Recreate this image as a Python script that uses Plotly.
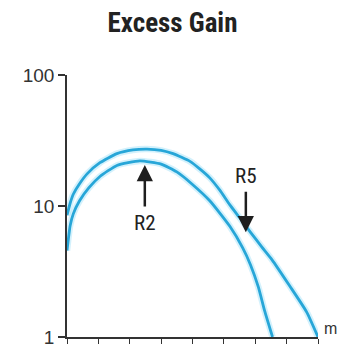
import numpy as np
import plotly.graph_objects as go

# Distance (m) and excess gain values
r5_x = [0.0, 0.1, 0.2, 0.4, 0.64, 1.05, 1.59, 2.1, 2.55, 3.0, 3.38, 3.92, 4.24, 4.55, 4.87, 5.19, 5.51, 5.85, 6.2, 6.53, 7.1, 7.64, 8.0]
r5_y = [8.5, 10.5, 12.3, 14.8, 17.6, 21.4, 25.1, 26.8, 27.2, 26.6, 25.1, 21.9, 19.1, 16.4, 13.2, 10.2, 8.1, 6.3, 4.9, 3.9, 2.45, 1.55, 1.0]
r2_x = [0.0, 0.1, 0.2, 0.4, 0.7, 1.05, 1.59, 2.32, 3.0, 3.5, 4.0, 4.55, 5.19, 5.6, 5.85, 6.1, 6.3, 6.55]
r2_y = [4.57, 7.08, 8.71, 10.96, 13.8, 16.8, 20.4, 22.1, 20.9, 18.2, 14.6, 10.96, 7.0, 4.79, 3.55, 2.4, 1.58, 1.0]

x_ticks = [0, 1, 2, 3, 4, 5, 6, 7, 8]
y_ticks = [1, 10, 100]
y_labels = ["1", "10", "100"]

line_color = "#27a6d8"
glow_color = "rgba(130,215,245,0.35)"

fig = go.Figure()
for xs, ys in [(r5_x, r5_y), (r2_x, r2_y)]:
    fig.add_trace(go.Scatter(x=xs, y=ys, mode="lines",
                             line=dict(color=glow_color, width=6.5, shape="spline", smoothing=0.5),
                             hoverinfo="skip", showlegend=False, cliponaxis=False))
    fig.add_trace(go.Scatter(x=xs, y=ys, mode="lines",
                             line=dict(color=line_color, width=2.8, shape="spline", smoothing=0.5),
                             showlegend=False, cliponaxis=False))

label_font = dict(family="Roboto Condensed, Open Sans Condensed, sans-serif", size=21, color="#222")
arrow_style = dict(xref="x", yref="y", axref="x", ayref="y", text="", showarrow=True,
                   arrowhead=2, arrowsize=1.3, arrowwidth=2.5, arrowcolor="#1e1e1e")
# R2 arrow (points up)
fig.add_annotation(x=2.48, y=np.log10(20.6), ax=2.48, ay=np.log10(9.66), **arrow_style)
fig.add_annotation(x=2.48, y=np.log10(7.4), xref="x", yref="y", text="R2",
                   showarrow=False, font=label_font)
# R5 arrow (points down)
fig.add_annotation(x=5.70, y=np.log10(6.3), ax=5.70, ay=np.log10(13.2), **arrow_style)
fig.add_annotation(x=5.70, y=np.log10(16.9), xref="x", yref="y", text="R5",
                   showarrow=False, font=label_font)
# axis unit (paper coordinates so it is not hidden outside the axis range)
fig.add_annotation(x=1.05, y=0.032, xref="paper", yref="paper", xanchor="center", yanchor="middle",
                   text="m", showarrow=False,
                   font=dict(family="Liberation Sans, Arial, sans-serif", size=16, color="#333"))

# the page body has an 8 px margin, so the figure is sized/offset to compensate
fig.update_layout(
    width=329, height=340,
    margin=dict(l=59, r=19, t=67, b=11),
    paper_bgcolor="white", plot_bgcolor="white",
    title=dict(text="<b>Excess Gain</b>", x=0.5, xanchor="center", y=0.956, yanchor="middle",
               font=dict(family="Roboto Condensed, Open Sans Condensed, sans-serif", size=27, color="#222")),
    xaxis=dict(range=[0, 8], tickvals=x_ticks, ticktext=[""] * len(x_ticks), automargin=False,
               showgrid=False, zeroline=False, showline=True, linecolor="#333", linewidth=1.6,
               ticks="outside", ticklen=5, tickwidth=1.3, tickcolor="#333"),
    yaxis=dict(type="log", range=[0, 2], tickvals=y_ticks, ticktext=y_labels, automargin=False,
               showgrid=False, zeroline=False, showline=True, linecolor="#333", linewidth=1.6,
               ticks="outside", ticklen=7, tickwidth=1.5, tickcolor="#333",
               tickfont=dict(family="Liberation Sans, Arial, sans-serif", size=19, color="#333")),
)

fig.write_html("out.html")
